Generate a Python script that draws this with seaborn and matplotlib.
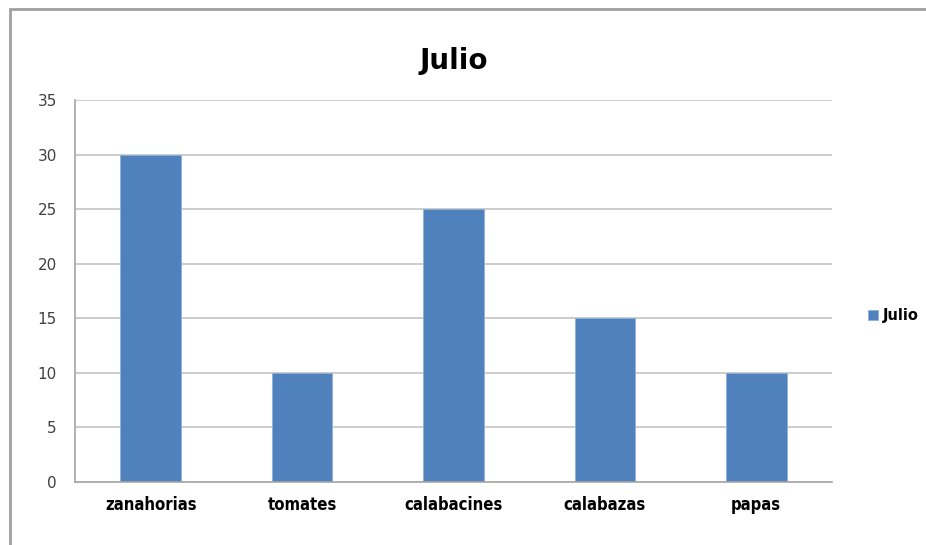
import matplotlib
matplotlib.use("Agg")
import matplotlib.pyplot as plt
import seaborn as sns
import pandas as pd
from matplotlib.patches import Rectangle

categorias = ["zanahorias", "tomates", "calabacines", "calabazas", "papas"]
valores = [30, 10, 25, 15, 10]
serie = "Julio"
yticks = [0, 5, 10, 15, 20, 25, 30, 35]

df = pd.DataFrame({"categoria": categorias, "valor": valores})

sns.set_theme(style="white")
plt.rcParams["font.family"] = ["DejaVu Sans"]

fig = plt.figure(figsize=(9.26, 5.45), dpi=100)
ax = fig.add_axes([75 / 926, 1 - 482 / 545, (832 - 75) / 926, (482 - 100) / 545])

bar_color = "#4F81BD"
sns.barplot(data=df, x="categoria", y="valor", color=bar_color, width=0.4,
            saturation=1, label=serie, ax=ax, edgecolor="#8eb0da", linewidth=0.6)

ax.set_ylim(0, 35)
ax.set_xlim(-0.5, len(categorias) - 0.5)
ax.set_yticks(yticks)
ax.set_yticklabels([str(t) for t in yticks], color="#404040", fontsize=11)
ax.yaxis.grid(True, color="#c8c8c8", linewidth=1.3)
ax.set_axisbelow(True)
ax.set_xlabel("")
ax.set_ylabel("")

for s in ["top", "right"]:
    ax.spines[s].set_visible(False)
for s in ["left", "bottom"]:
    ax.spines[s].set_color("#a6a6a6")
    ax.spines[s].set_linewidth(1.2)

# category labels centered, tick marks between categories
ax.set_xticks(range(len(categorias)))
ax.set_xticklabels(categorias, fontsize=12, fontweight="bold",
                   fontstretch="condensed", color="black")
ax.tick_params(axis="x", length=0, pad=10)
ax.set_xticks([i - 0.5 for i in range(len(categorias) + 1)], minor=True)
ax.tick_params(axis="x", which="minor", length=6, color="#a6a6a6", width=1.2,
               direction="out")
ax.tick_params(axis="y", length=7, color="#a6a6a6", width=1.2, direction="out", pad=6)

ax.set_title("Julio", fontsize=20, fontweight="bold", color="black", pad=22)

leg = ax.legend(loc="center left", bbox_to_anchor=(1.03, 0.435), frameon=False,
                handlelength=0.7, handleheight=0.7, handletextpad=0.3,
                prop={"weight": "bold", "size": 10.5})
for t in leg.get_texts():
    t.set_color("black")

# chart border
fig.patches.append(Rectangle((10 / 926, -0.1), 1.1, 1 - 9 / 545 + 0.1,
                             transform=fig.transFigure, fill=False,
                             edgecolor="#a0a0a0", linewidth=2))

fig.savefig("out.png", dpi=100)
